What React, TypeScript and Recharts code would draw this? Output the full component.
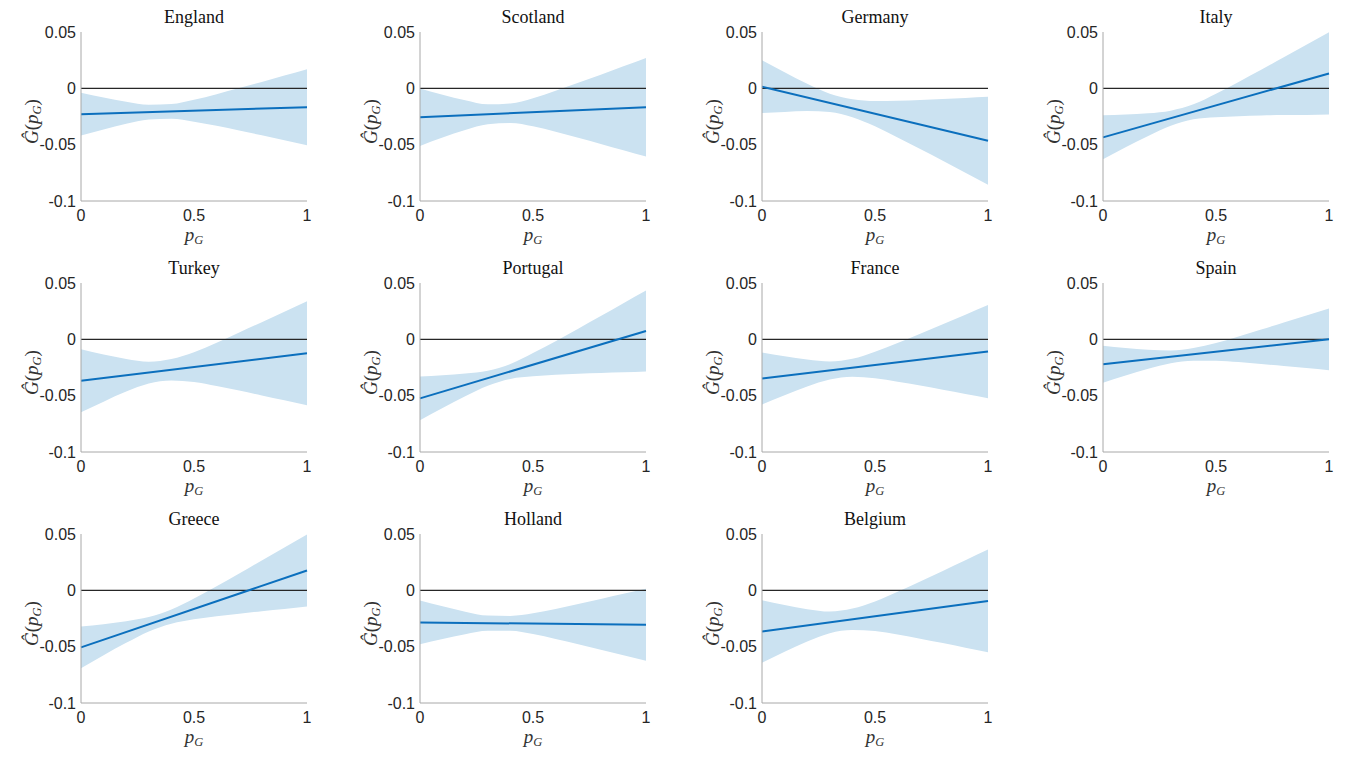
import React from "react";
import {
  ComposedChart,
  Area,
  Line,
  XAxis,
  YAxis,
  ReferenceLine,
} from "recharts";

// x grid shared by every panel
const pG = [0, 0.1, 0.2, 0.3, 0.4, 0.5, 0.6, 0.7, 0.8, 0.9, 1];

const xTicks = [0, 0.5, 1];
const yTicks = [-0.1, -0.05, 0, 0.05];

// fitted line: value at pG = 0 and pG = 1
const englandLine = [-0.0229, -0.0168];
const englandUpper = [-0.0039, -0.0081, -0.0119, -0.0145, -0.014, -0.0102, -0.0052, 0.0002, 0.0057, 0.0113, 0.0169];
const englandLower = [-0.0419, -0.0365, -0.0315, -0.0277, -0.027, -0.0296, -0.0332, -0.0374, -0.0417, -0.0461, -0.0505];

const scotlandLine = [-0.0256, -0.0168];
const scotlandUpper = [-0.0001, -0.0057, -0.0106, -0.0142, -0.0134, -0.0087, -0.0021, 0.005, 0.0121, 0.0195, 0.0269];
const scotlandLower = [-0.0511, -0.0437, -0.037, -0.0318, -0.0308, -0.0337, -0.0385, -0.0438, -0.0493, -0.0549, -0.0605];

const germanyLine = [0.0015, -0.0465];
const germanyUpper = [0.025, 0.0143, 0.004, -0.0048, -0.0097, -0.0113, -0.011, -0.0103, -0.0095, -0.0085, -0.0075];
const germanyLower = [-0.022, -0.0209, -0.0202, -0.021, -0.0257, -0.0337, -0.0436, -0.0539, -0.0643, -0.0749, -0.0855];

const italyLine = [-0.0435, 0.0132];
const italyUpper = [-0.024, -0.0232, -0.0221, -0.0198, -0.0142, -0.0048, 0.0057, 0.0165, 0.0275, 0.0386, 0.0497];
const italyLower = [-0.063, -0.0524, -0.0423, -0.0332, -0.0274, -0.0256, -0.0247, -0.0241, -0.0237, -0.0236, -0.0233];

const turkeyLine = [-0.0368, -0.0124];
const turkeyUpper = [-0.0088, -0.0135, -0.0174, -0.0198, -0.0175, -0.0114, -0.003, 0.0061, 0.0152, 0.0245, 0.0338];
const turkeyLower = [-0.0648, -0.0553, -0.0464, -0.0392, -0.0365, -0.0378, -0.0414, -0.0455, -0.0498, -0.0541, -0.0586];

const portugalLine = [-0.0524, 0.0074];
const portugalUpper = [-0.0329, -0.0318, -0.0303, -0.0278, -0.0219, -0.0122, -0.0016, 0.0095, 0.0206, 0.032, 0.0433];
const portugalLower = [-0.0719, -0.061, -0.0505, -0.0412, -0.0351, -0.0328, -0.0314, -0.0305, -0.0298, -0.0292, -0.0285];

const franceLine = [-0.0347, -0.0109];
const franceUpper = [-0.0116, -0.015, -0.018, -0.0196, -0.0173, -0.011, -0.0032, 0.005, 0.0134, 0.0219, 0.0304];
const franceLower = [-0.0578, -0.0496, -0.0418, -0.0356, -0.0331, -0.0346, -0.0376, -0.041, -0.0448, -0.0485, -0.0522];

const spainLine = [-0.0221, 0.0];
const spainUpper = [-0.0056, -0.0076, -0.0092, -0.0098, -0.0077, -0.0033, 0.0026, 0.0087, 0.0149, 0.0211, 0.0274];
const spainLower = [-0.0386, -0.0322, -0.0262, -0.0212, -0.0189, -0.0189, -0.0202, -0.0219, -0.0237, -0.0255, -0.0274];

const greeceLine = [-0.0506, 0.0176];
const greeceUpper = [-0.0321, -0.03, -0.0274, -0.0237, -0.017, -0.0073, 0.0036, 0.0149, 0.0265, 0.0381, 0.0496];
const greeceLower = [-0.0691, -0.0576, -0.0466, -0.0365, -0.0296, -0.0257, -0.023, -0.0207, -0.0185, -0.0165, -0.0144];

const hollandLine = [-0.0285, -0.0306];
const hollandUpper = [-0.0091, -0.0142, -0.0189, -0.0224, -0.0227, -0.0204, -0.0165, -0.0122, -0.0077, -0.0031, 0.0014];
const hollandLower = [-0.0479, -0.0432, -0.0389, -0.0358, -0.0359, -0.0388, -0.0431, -0.0478, -0.0527, -0.0577, -0.0626];

const belgiumLine = [-0.0365, -0.0094];
const belgiumUpper = [-0.0087, -0.013, -0.0167, -0.0188, -0.0162, -0.0099, -0.0012, 0.0079, 0.0172, 0.0267, 0.0362];
const belgiumLower = [-0.0643, -0.0546, -0.0455, -0.038, -0.0352, -0.0361, -0.0392, -0.0429, -0.0468, -0.0509, -0.055];

const panels = [
  { name: "England", line: englandLine, upper: englandUpper, lower: englandLower },
  { name: "Scotland", line: scotlandLine, upper: scotlandUpper, lower: scotlandLower },
  { name: "Germany", line: germanyLine, upper: germanyUpper, lower: germanyLower },
  { name: "Italy", line: italyLine, upper: italyUpper, lower: italyLower },
  { name: "Turkey", line: turkeyLine, upper: turkeyUpper, lower: turkeyLower },
  { name: "Portugal", line: portugalLine, upper: portugalUpper, lower: portugalLower },
  { name: "France", line: franceLine, upper: franceUpper, lower: franceLower },
  { name: "Spain", line: spainLine, upper: spainUpper, lower: spainLower },
  { name: "Greece", line: greeceLine, upper: greeceUpper, lower: greeceLower },
  { name: "Holland", line: hollandLine, upper: hollandUpper, lower: hollandLower },
  { name: "Belgium", line: belgiumLine, upper: belgiumUpper, lower: belgiumLower },
];

const colLeft = [81, 420, 762, 1103];
const rowTop = [32, 283, 534];
const plotW = 226;
const plotH = 169;
const M = { top: 30, right: 12, left: 20, bottom: 22 };
const yAxisW = 50;

const serif = "'Liberation Serif', 'DejaVu Serif', serif";
const sans = "'Liberation Sans', Arial, sans-serif";

function buildRows(p: (typeof panels)[number]) {
  return pG.map((x, i) => ({
    x,
    band: [p.lower[i], p.upper[i]],
    est: i === 0 ? p.line[0] : i === pG.length - 1 ? p.line[1] : null,
  }));
}

function XLabel(props: any) {
  const vb = props.viewBox || {};
  const cx = vb.x + vb.width / 2;
  const y = vb.y + 40;
  return (
    <text x={cx} y={y} textAnchor="middle" fontFamily={serif} fontSize={19} fontStyle="italic" fill="#333">
      p
      <tspan fontSize={12.5} dy={3}>G</tspan>
    </text>
  );
}

function YLabel(props: any) {
  const vb = props.viewBox || {};
  const x = vb.x + vb.width - 43;
  const cy = vb.y + vb.height / 2 + 5;
  return (
    <text
      x={x}
      y={cy}
      transform={`rotate(-90 ${x} ${cy})`}
      textAnchor="middle"
      fontFamily={serif}
      fontSize={19}
      fill="#333"
    >
      <tspan fontStyle="italic">Ĝ</tspan>
      <tspan>(</tspan>
      <tspan fontStyle="italic">p</tspan>
      <tspan fontStyle="italic" fontSize={12.5} dy={3}>G</tspan>
      <tspan dy={-3}>)</tspan>
    </text>
  );
}

function Panel({ p, idx }: { p: (typeof panels)[number]; idx: number }) {
  const col = idx % 4;
  const row = Math.floor(idx / 4);
  const left = colLeft[col] - M.left - yAxisW;
  const top = rowTop[row] - M.top;
  const width = M.left + yAxisW + plotW + M.right;
  const height = M.top + plotH + 30 + M.bottom;
  const data = buildRows(p);

  return (
    <div style={{ position: "absolute", left, top, width, height }}>
      <div
        style={{
          position: "absolute",
          left: M.left + yAxisW - 20,
          width: plotW + 40,
          top: 4,
          textAlign: "center",
          fontFamily: serif,
          fontSize: 18,
          lineHeight: "22px",
          color: "#111",
        }}
      >
        {p.name}
      </div>
      <ComposedChart width={width} height={height} data={data} margin={M}>
        <XAxis
          dataKey="x"
          type="number"
          domain={[0, 1]}
          ticks={xTicks}
          tickFormatter={(v) => String(v)}
          axisLine={{ stroke: "#a8a8a8" }}
          tickLine={false}
          tickSize={0}
          tickMargin={9}
          height={30}
          tick={{ fontSize: 16, fill: "#262626", fontFamily: sans }}
          label={{ content: (lp: any) => <XLabel {...lp} /> }}
        />
        <YAxis
          type="number"
          domain={[-0.1, 0.05]}
          ticks={yTicks}
          width={yAxisW}
          tickFormatter={(v) => String(v)}
          axisLine={{ stroke: "#a8a8a8" }}
          tickLine={false}
          tickSize={0}
          tickMargin={5}
          allowDataOverflow
          tick={{ fontSize: 16, fill: "#262626", fontFamily: sans }}
          label={{ content: (lp: any) => <YLabel {...lp} /> }}
        />
        <Area
          dataKey="band"
          type="monotone"
          stroke="none"
          fill="#cbe2f1"
          fillOpacity={1}
          isAnimationActive={false}
        />
        <ReferenceLine y={0} stroke="#262626" strokeWidth={1.3} />
        <Line
          dataKey="est"
          type="linear"
          stroke="#0b6fbd"
          strokeWidth={2}
          dot={false}
          connectNulls
          isAnimationActive={false}
        />
      </ComposedChart>
    </div>
  );
}

export default function App() {
  return (
    <div style={{ position: "absolute", left: 0, top: 0, width: 1358, height: 759, background: "#fff" }}>
      {panels.map((p, i) => (
        <Panel key={p.name} p={p} idx={i} />
      ))}
    </div>
  );
}
